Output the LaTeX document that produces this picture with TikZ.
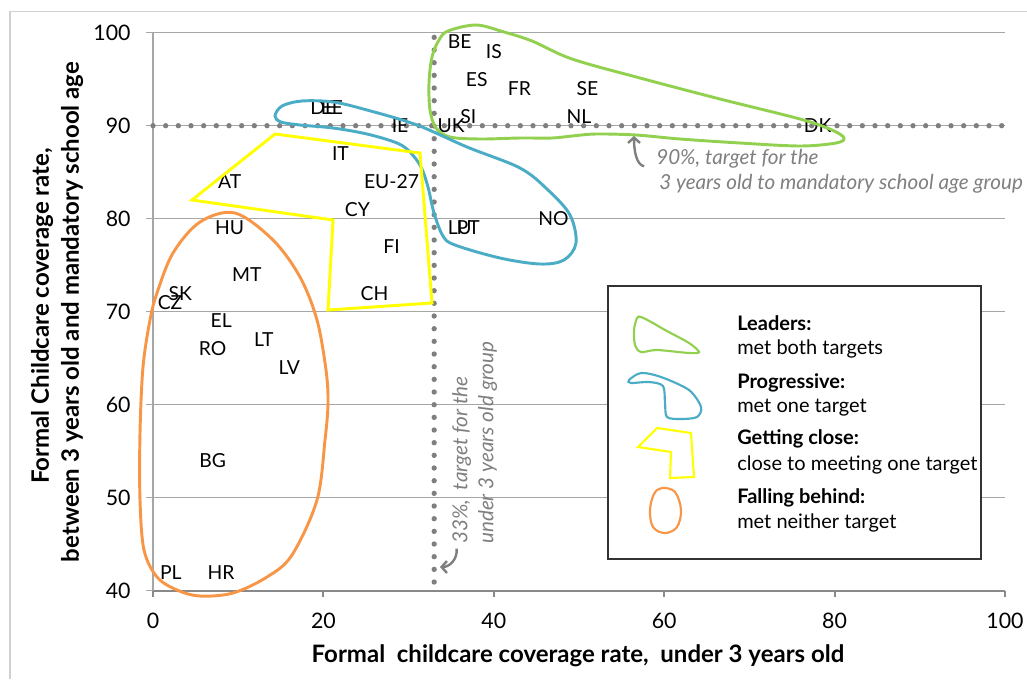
\documentclass[tikz,border=0pt]{standalone}
\usepackage{fontspec}
\setmainfont{Lato}
\usetikzlibrary{arrows.meta}
\definecolor{leadgreen}{HTML}{92D050}
\definecolor{progblue}{HTML}{4BACC6}
\definecolor{closeyellow}{HTML}{FFFF00}
\definecolor{behindorange}{HTML}{F79646}
\definecolor{gridgray}{HTML}{A6A6A6}
\definecolor{axisgray}{HTML}{898989}
\definecolor{dotgray}{HTML}{7F7F7F}
\definecolor{framegray}{HTML}{D0D0D0}
\begin{document}
\begin{tikzpicture}[x=0.75pt,y=-0.75pt,
  gridln/.style={draw=gridgray,line width=1.1pt},
  axisln/.style={draw=axisgray,line width=1.5pt},
  dotln/.style={draw=dotgray,line width=4pt,line cap=round,dash pattern=on 0pt off 9.5pt},
  country/.style={inner sep=0pt,font=\fontsize{14.5}{18}\selectfont},
  ticklab/.style={inner sep=0pt,font=\fontsize{16}{18}\selectfont},
  axtitle/.style={inner sep=0pt,font=\fontsize{18}{22}\selectfont\bfseries},
  note/.style={inner sep=0pt,text=dotgray,font=\fontsize{15.5}{19.5}\selectfont\itshape},
  notearrow/.style={draw=dotgray,line width=1.8pt,-{Straight Barb[length=4pt,width=9pt]}},
  leadln/.style={draw=leadgreen,line width=2.2pt},
  progln/.style={draw=progblue,line width=2.2pt},
  closeln/.style={draw=closeyellow,line width=2.2pt},
  behindln/.style={draw=behindorange,line width=2.2pt},
  legtitle/.style={anchor=west,inner sep=0pt,font=\fontsize{15}{18}\selectfont\bfseries},
  legtext/.style={anchor=west,inner sep=0pt,font=\fontsize{15}{18}\selectfont}]
\useasboundingbox (0,0) rectangle (1027,679);
%FRAME
\draw[framegray,line width=1.1pt] (10,679) -- (10,11.5) -- (1027,11.5);
%DATA AREA
\begin{scope}[shift={(153,962.7)},x={(6.39pt,0pt)},y={(0pt,6.975pt)}]
  \foreach \v in {50,60,...,100} \draw[gridln] (0,\v) -- (100,\v);
  \foreach \v in {40,50,...,100}{
    \draw[gridln] (-0.8,\v) -- (0,\v);
    \node[ticklab,anchor=east] (y\v) at (-2.6,\v) {\v};}
  \draw[gridln] (0,40) -- (0,100);
  \draw[axisln] (0,40) -- (100,40);
  \foreach \x in {0,20,...,100}{
    \draw[axisln] (\x,40) -- (\x,39.3);
    \node[ticklab] (x\x) at (\x,36.8) {\x};}
  %TARGET LINES
  \draw[dotln] (0,90) -- (100,90);
  \draw[dotln] (33,99.5) -- (33,40);
  %COUNTRIES
  \foreach \c/\x/\v in {BE/36/99,IS/40/98,ES/38/95,FR/43/94,SE/51/94,SI/37/91,NL/50/91,
    UK/35/90,DK/78/90,DE/20/92,EE/21/92,IE/29/90,IT/22/87,AT/9/84,EU-27/28/84,CY/24/81,
    HU/9/79,FI/28/77,LU/36/79,PT/37/79,NO/47/80,MT/11/74,CH/26/72,SK/3.2/72,CZ/2/71,
    EL/8/69,LT/13/67,RO/7/66,LV/16/64,BG/7/54,PL/2.1/42,HR/8/42}
    \node[country] (\c) at (\x,\v) {\c};
\end{scope}
%AXIS TITLES
\node[axtitle] (xtitle) at (578,656) {Formal\ \ childcare coverage rate,\ \ under 3 years old};
\node[axtitle,rotate=90] (ytitlea) at (42,316) {Formal Childcare coverage rate,};
\node[axtitle,rotate=90] (ytitleb) at (72,312) {between 3 years old and mandatory school age};
%GROUPS
\draw[leadln] plot[smooth cycle,tension=0.55] coordinates {(448,31) (476,25) (504,32) (532,41)
  (572,59) (640,78) (720,99) (800,119) (832,130) (844,138) (836,143) (800,146) (740,143)
  (680,139) (636,135) (596,134) (572,136) (552,138) (520,138) (480,139) (450,137) (436,128)
  (430,110) (429,83) (432,57) (439,40)};
\draw[progln] plot[smooth cycle,tension=0.55] coordinates {(275,116) (282,106) (302,101)
  (333,102) (367,110) (417,125) (467,147) (520,168) (548,190) (570,215) (576,243) (564,260)
  (540,264) (500,258) (455,245) (443,236) (434,213) (428,187) (421,167) (410,152) (397,143)
  (367,134) (333,128) (300,125) (281,122)};
\draw[closeln] (275,134) -- (420,153) -- (432,303) -- (328,310) -- (333,220) -- (192,200) -- cycle;
\draw[behindln] plot[smooth cycle,tension=0.55] coordinates {(235,213) (273,240) (300,277)
  (317,320) (326,370) (328,403) (325,440) (317,500) (292,555) (267,577) (233,593) (200,596)
  (177,590) (157,577) (144,550) (140,500) (140,433) (143,367) (150,320) (157,293) (173,253)
  (200,222)};
%TARGET NOTES
\node[note,anchor=west] (note90a) at (656,159) {90\%, target for the};
\node[note,anchor=west] (note90b) at (659,184) {3 years old to mandatory school age group};
\coordinate (tgt90) at (634,136);
\draw[notearrow] ([xshift=-9pt,yshift=-5.5pt]note90a.west) .. controls +(-8,-2) and +(0,14) .. (tgt90);
\node[note,rotate=90,align=left,anchor=north west] (note33) at (452,544) {33\%,\ \ target for the\\under 3 years old group};
\coordinate (tgt33) at (440,567);
\draw[notearrow] ([xshift=3.5pt,yshift=-3.5pt]note33.north west) .. controls +(1,10) and +(10,0) .. (tgt33);
%LEGEND
\draw[black!80,line width=1pt,fill=white] (608,286) rectangle (981,559);
\draw[leadln,line width=1.6pt] plot[smooth cycle,tension=0.5] coordinates {(641,317) (653,323)
  (665,330) (689,343) (699,352) (689,353) (657,350) (641,352) (635,345) (634,330) (637,318)};
\draw[progln,line width=1.6pt] plot[smooth cycle,tension=0.5] coordinates {(629,380) (641,373)
  (661,377) (689,390) (701,407) (697,417) (681,419) (667,417) (665,403) (663,386) (649,382) (631,383)};
\draw[closeln,line width=1.6pt] (657,428) -- (691,433) -- (694,477) -- (670,478) -- (671,452) -- (638,447) -- cycle;
\draw[behindln,line width=1.6pt] plot[smooth cycle,tension=0.6] coordinates {(662,488) (675,492)
  (681,510) (677,527) (665,533) (653,527) (650,510) (654,494)};
\node[legtitle] (lead) at (737,323) {Leaders:};
\node[legtext] (leadtxt) at (737,349) {met both targets};
\node[legtitle] (prog) at (737,383) {Progressive:};
\node[legtext] (progtxt) at (737,408) {met one target};
\node[legtitle] (close) at (737,439) {Getting close:};
\node[legtext] (closetxt) at (737,465) {close to meeting one target};
\node[legtitle] (behind) at (737,498) {Falling behind:};
\node[legtext] (behindtxt) at (737,523) {met neither target};
\end{tikzpicture}
\end{document}
